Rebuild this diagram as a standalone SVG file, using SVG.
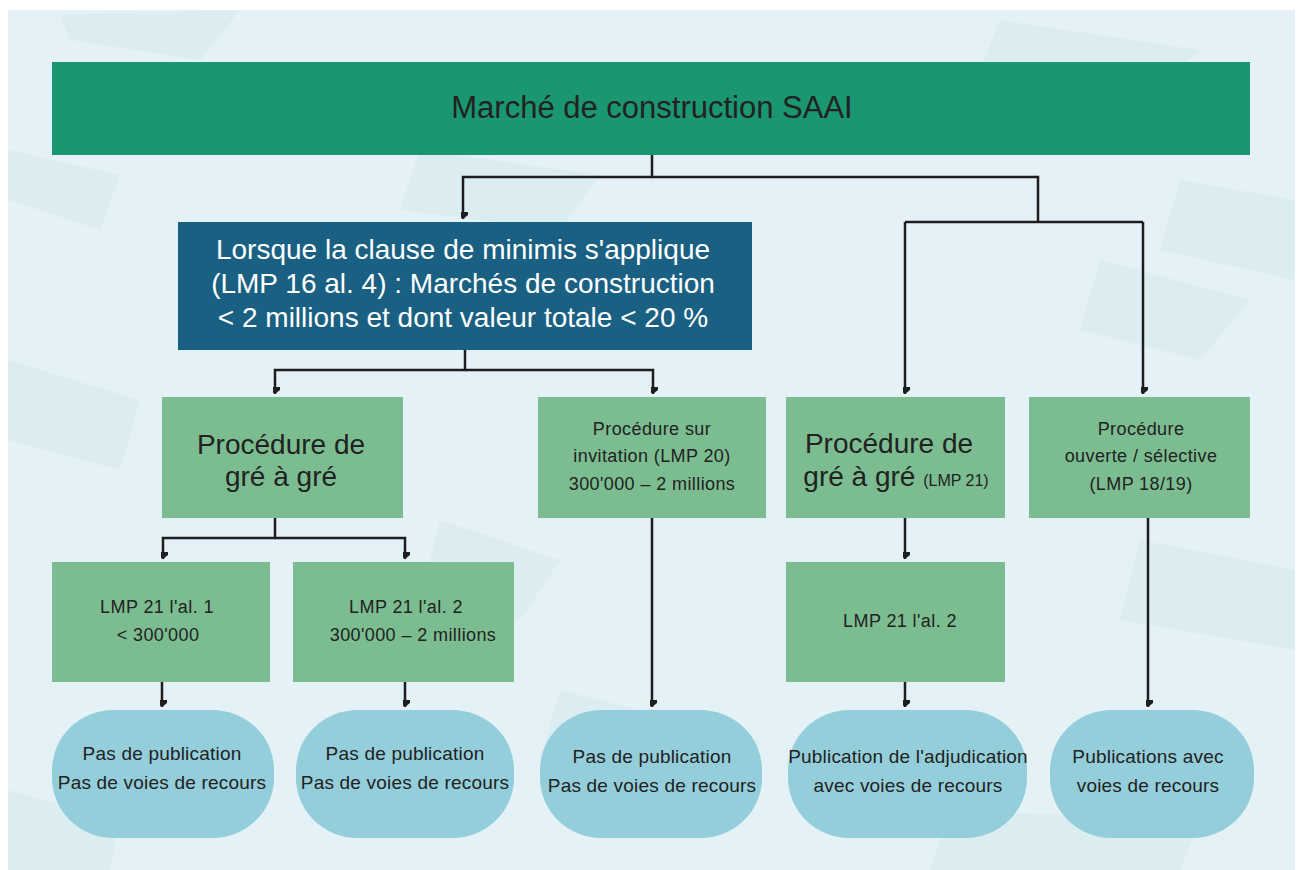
<svg xmlns="http://www.w3.org/2000/svg" width="1299" height="870" viewBox="0 0 1299 870">
<defs>
<style>
.t{font-family:"Liberation Sans",Arial,sans-serif;fill:#222;text-anchor:middle}
.w{fill:#fff}
.s{font-size:18px;letter-spacing:0.4px}
.b{font-size:28px}
.p{font-size:19px;letter-spacing:0.2px}
.g{fill:#7bbd90}
.o{fill:#93ceda}
.c{fill:none;stroke:#1e1e1e;stroke-width:2.5}
.bg{fill:#dcedf2}
</style>
<marker id="ah" markerUnits="userSpaceOnUse" markerWidth="14" markerHeight="14" viewBox="-7 -12 14 14" refX="0" refY="0" orient="auto-start-reverse">
<path d="M-5,-10 L5,-10 L5,-4 L0,0 L-5,-4 Z" fill="#1e1e1e" transform="rotate(-90)"/>
</marker>
</defs>
<rect x="0" y="0" width="1299" height="870" fill="#fff"/>
<g id="background">
<rect x="8" y="10" width="1287" height="860" fill="#e4f1f6"/>
<polygon class="bg" points="60,15 240,10 200,60 70,40"/>
<polygon class="bg" points="8,150 120,175 100,230 8,200"/>
<polygon class="bg" points="420,150 600,175 560,230 400,210"/>
<polygon class="bg" points="1000,20 1200,50 1150,100 980,70"/>
<polygon class="bg" points="1180,180 1295,200 1295,280 1160,250"/>
<polygon class="bg" points="1100,260 1250,300 1200,360 1080,330"/>
<polygon class="bg" points="8,360 140,400 120,470 8,440"/>
<polygon class="bg" points="440,520 560,560 520,620 420,600"/>
<polygon class="bg" points="1140,540 1295,570 1295,650 1120,620"/>
<polygon class="bg" points="560,690 760,740 740,790 540,760"/>
<polygon class="bg" points="950,810 1200,820 1180,870 930,870"/>
<polygon class="bg" points="8,790 120,820 110,870 8,870"/>
</g>
<g id="connectors">
<polyline class="c" points="652,155 652,177 463,177 463,219" marker-end="url(#ah)"/>
<polyline class="c" points="652,177 1038,177 1038,222"/>
<polyline class="c" points="905,222 1143,222"/>
<polyline class="c" points="905,222 905,394" marker-end="url(#ah)"/>
<polyline class="c" points="1143,222 1143,394" marker-end="url(#ah)"/>
<polyline class="c" points="465,350 465,370 275,370 275,394" marker-end="url(#ah)"/>
<polyline class="c" points="465,370 653,370 653,394" marker-end="url(#ah)"/>
<polyline class="c" points="275,518 275,538 163,538 163,559" marker-end="url(#ah)"/>
<polyline class="c" points="275,538 405,538 405,559" marker-end="url(#ah)"/>
<polyline class="c" points="905,518 905,559" marker-end="url(#ah)"/>
<polyline class="c" points="162,682 162,707" marker-end="url(#ah)"/>
<polyline class="c" points="405,682 405,707" marker-end="url(#ah)"/>
<polyline class="c" points="652,518 652,707" marker-end="url(#ah)"/>
<polyline class="c" points="905,682 905,707" marker-end="url(#ah)"/>
<polyline class="c" points="1148,518 1148,707" marker-end="url(#ah)"/>
</g>
<g id="n-top">
<rect x="52" y="62" width="1198" height="93" fill="#1a9670"/>
<text class="t" x="652" y="118" font-size="31">Marché de construction SAAI</text>
</g>
<g id="n-minimis">
<rect x="178" y="222" width="574" height="128" fill="#1a6083"/>
<text class="t w" x="463" y="259" font-size="28">Lorsque la clause de minimis s'applique</text>
<text class="t w" x="463" y="293" font-size="28">(LMP 16 al. 4) : Marchés de construction</text>
<text class="t w" x="463" y="327" font-size="28">&lt; 2 millions et dont valeur totale &lt; 20 %</text>
</g>
<g id="n-gre1">
<rect class="g" x="162" y="397" width="241" height="121"/>
<text class="t b" x="281" y="454">Procédure de</text>
<text class="t b" x="281" y="486">gré à gré</text>
</g>
<g id="n-invitation">
<rect class="g" x="538" y="397" width="228" height="121"/>
<text class="t s" x="652" y="435">Procédure sur</text>
<text class="t s" x="652" y="462">invitation (LMP 20)</text>
<text class="t s" x="652" y="490">300'000 – 2 millions</text>
</g>
<g id="n-gre2">
<rect class="g" x="786" y="397" width="219" height="121"/>
<text class="t b" x="889" y="453">Procédure de</text>
<text class="t b" x="896" y="486">gré à gré <tspan font-size="16">(LMP 21)</tspan></text>
</g>
<g id="n-ouverte">
<rect class="g" x="1029" y="397" width="221" height="121"/>
<text class="t s" x="1141" y="435">Procédure</text>
<text class="t s" x="1141" y="462">ouverte / sélective</text>
<text class="t s" x="1141" y="490">(LMP 18/19)</text>
</g>
<g id="n-al1">
<rect class="g" x="52" y="562" width="218" height="120"/>
<text class="t s" x="157" y="613">LMP 21 l'al. 1</text>
<text class="t s" x="158" y="641">&lt; 300'000</text>
</g>
<g id="n-al2a">
<rect class="g" x="293" y="562" width="221" height="120"/>
<text class="t s" x="406" y="613">LMP 21 l'al. 2</text>
<text class="t s" x="413" y="641">300'000 – 2 millions</text>
</g>
<g id="n-al2b">
<rect class="g" x="786" y="562" width="219" height="120"/>
<text class="t s" x="900" y="627">LMP 21 l'al. 2</text>
</g>
<g id="o1">
<rect class="o" x="52" y="710" width="222" height="128" rx="62" ry="60"/>
<text class="t p" x="162" y="760">Pas de publication</text>
<text class="t p" x="162" y="789">Pas de voies de recours</text>
</g>
<g id="o2">
<rect class="o" x="296" y="710" width="218" height="128" rx="62" ry="60"/>
<text class="t p" x="405" y="760">Pas de publication</text>
<text class="t p" x="405" y="789">Pas de voies de recours</text>
</g>
<g id="o3">
<rect class="o" x="540" y="710" width="222" height="128" rx="62" ry="60"/>
<text class="t p" x="652" y="763">Pas de publication</text>
<text class="t p" x="652" y="792">Pas de voies de recours</text>
</g>
<g id="o4">
<rect class="o" x="788" y="710" width="239" height="128" rx="62" ry="60"/>
<text class="t p" x="908" y="763">Publication de l'adjudication</text>
<text class="t p" x="908" y="792">avec voies de recours</text>
</g>
<g id="o5">
<rect class="o" x="1050" y="710" width="204" height="128" rx="62" ry="60"/>
<text class="t p" x="1148" y="763">Publications avec</text>
<text class="t p" x="1148" y="792">voies de recours</text>
</g>
</svg>
